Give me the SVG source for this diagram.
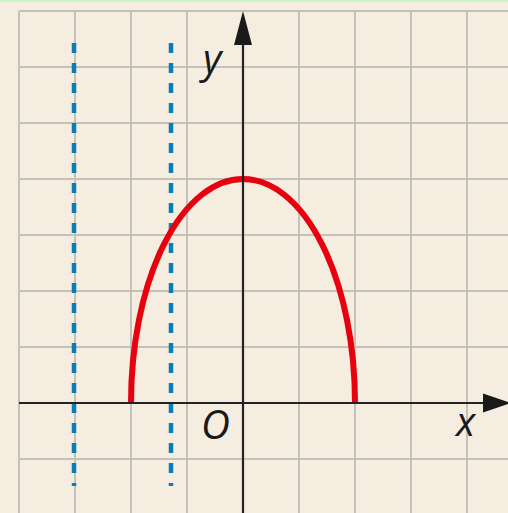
<svg xmlns="http://www.w3.org/2000/svg" width="508" height="513" viewBox="0 0 508 513">
<defs>
<style>
.grid{stroke:#c4c0ba;stroke-width:2;fill:none}
.axis{stroke:#222;stroke-width:2.2;fill:none}
.head{fill:#1a1a1a}
.dot{stroke:#0a7db5;stroke-width:4.5;stroke-dasharray:10 10;fill:none}
.curve{stroke:#e8000f;stroke-width:6;fill:none}
.lbl{font-family:"Open Sans","DejaVu Sans",sans-serif;font-style:italic;font-size:40px;fill:#1a1a1a}
</style>
</defs>
<rect width="508" height="513" fill="#f5ede0"/>
<rect width="508" height="2" fill="#c8f5c0"/>
<g id="grid">
<path class="grid" d="M19,11V513M75,11V513M131,11V513M187,11V513M299,11V513M355,11V513M411,11V513M467,11V513M19,11H508M19,67H508M19,123H508M19,179H508M19,235H508M19,291H508M19,347H508M19,459H508"/>
</g>
<g id="connectors">
<path class="dot" d="M74,43V486"/>
<path class="dot" d="M171,43V486"/>
</g>
<g id="curve">
<path class="curve" d="M131,403A112,224 0 0 1 355,403"/>
</g>
<g id="x-axis">
<path class="axis" d="M19,403H486"/>
<polygon class="head" points="483,393.5 511,403 483,412.5"/>
<text class="lbl" x="456" y="436">x</text>
</g>
<g id="y-axis">
<path class="axis" d="M243,513V42"/>
<polygon class="head" points="234,45 243,11 252,45"/>
<text class="lbl" x="203" y="73">y</text>
</g>
<g id="origin">
<text class="lbl" x="201" y="439">O</text>
</g>
</svg>
